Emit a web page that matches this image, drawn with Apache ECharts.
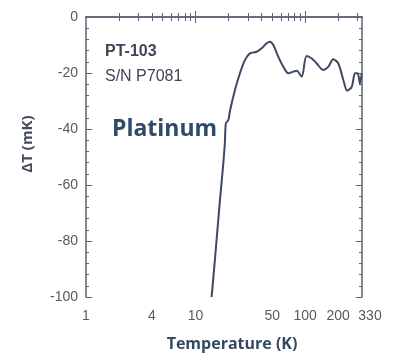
<!DOCTYPE html>
<html>
<head>
<meta charset="utf-8">
<script src="https://cdn.jsdelivr.net/npm/echarts@6/dist/echarts.min.js"></script>
<style>
html, body { margin: 0; padding: 0; background: #fff; }
#chart { width: 397px; height: 356px; }
</style>
</head>
<body>
<div id="chart"></div>
<script>
// temperature (K) and deviation (mK)
const temps = [14.0, 15.0, 16.1, 16.9, 17.9, 18.5, 18.9, 19.9, 20.6, 22.9, 25.4, 28.2, 31.3, 36.1, 40.1, 44.5, 47.7, 51.2, 56.9, 63.1, 70.2, 77.9, 83.6, 92.9, 103, 115, 127, 146, 163, 180, 200, 223, 242, 266, 285, 301, 316, 328]
const deltaT = [-100, -86.8, -72.5, -63, -52.3, -45, -38, -36.8, -33.5, -26, -20.1, -15.4, -13, -12.4, -11.2, -9.4, -8.8, -10, -14.2, -17.7, -20.1, -19.5, -19.2, -21.3, -13.9, -14.8, -16.5, -18.9, -17.7, -15.1, -16.5, -22.5, -26.3, -24.9, -20.1, -20.1, -23.7, -20.1]

const xLabels = [1, 4, 10, 50, 100, 200, 330]
const xMajorTicks = [10, 100]
const xMinorTicks = [2, 3, 4, 5, 6, 7, 8, 9, 20, 30, 40, 50, 60, 70, 80, 90, 200, 300]

const axisColor = '#5d6372'
const labelFont = { fontFamily: 'Liberation Sans', fontSize: 14, color: '#5a5a5a' }

function xAxisDef(position, ticks, len, withLabels, withLine) {
	return {
		type: 'log',
		logBase: 10,
		min: 1,
		max: 330,
		position: position,
		axisLine: { show: withLine, lineStyle: { color: axisColor, width: 1.5 } },
		axisTick: {
			show: true,
			inside: true,
			length: len,
			customValues: ticks,
			lineStyle: { color: axisColor, width: 1 },
		},
		axisLabel: withLabels
			? {
					show: true,
					customValues: xLabels,
					margin: 12,
					...labelFont,
					// last label sits a little right of the axis end
					formatter: (v) => (Math.round(v) === 330 ? '{r|330}' : String(Math.round(v))),
					rich: { r: { ...labelFont, padding: [0, 0, 0, 16] } },
			  }
			: { show: false },
		splitLine: { show: false },
		minorTick: { show: false },
	}
}

function yAxisDef(position, withLabels) {
	return {
		type: 'value',
		min: -100,
		max: 0,
		interval: 20,
		position: position,
		axisLine: { show: true, lineStyle: { color: axisColor, width: 1.5 } },
		axisTick: { show: true, inside: true, length: 6, lineStyle: { color: axisColor } },
		minorTick: { show: true, splitNumber: 5, length: 3, lineStyle: { color: axisColor } },
		axisLabel: withLabels ? { show: true, margin: 8, ...labelFont } : { show: false },
		splitLine: { show: false },
		minorSplitLine: { show: false },
	}
}

const chart = echarts.init(document.getElementById('chart'))
chart.setOption({
	backgroundColor: '#fff',
	animation: false,
	grid: { left: 86, right: 35, top: 17, bottom: 59 },
	xAxis: [
		xAxisDef('bottom', xMajorTicks, 6, true, true),
		xAxisDef('bottom', xMinorTicks, 4, false, false),
		xAxisDef('top', xMajorTicks, 6, false, true),
		xAxisDef('top', xMinorTicks, 4, false, false),
	],
	yAxis: [yAxisDef('left', true), yAxisDef('right', false)],
	title: [
		{
			text: 'PT-103',
			left: 100,
			top: 39,
			textStyle: { fontFamily: 'Liberation Sans', fontSize: 16, fontWeight: 'bold', color: '#3d4657' },
		},
		{
			text: 'S/N P7081',
			left: 100,
			top: 64,
			textStyle: { fontFamily: 'Liberation Sans', fontSize: 16, fontWeight: 'normal', color: '#3d4657' },
		},
		{
			text: 'Platinum',
			left: 107,
			top: 113,
			textStyle: { fontFamily: 'Open Sans', fontSize: 23, fontWeight: 'bold', color: '#2d4a6b' },
		},
		{
			text: 'Temperature (K)',
			left: 227,
			textAlign: 'center',
			top: 331,
			textStyle: { fontFamily: 'Open Sans', fontSize: 16, fontWeight: 'bold', color: '#34495f' },
		},
	],
	graphic: [
		{
			type: 'text',
			x: 28,
			y: 144,
			rotation: Math.PI / 2,
			style: {
				text: 'ΔT (mK)',
				font: 'bold 15px "Open Sans"',
				fill: '#454d5c',
				align: 'center',
				verticalAlign: 'middle',
			},
		},
	],
	series: [
		{
			type: 'line',
			data: temps.map((t, i) => [t, deltaT[i]]),
			showSymbol: false,
			smooth: 0.3,
			clip: true,
			lineStyle: { color: '#3c4960', width: 2 },
		},
	],
})
</script>
</body>
</html>
